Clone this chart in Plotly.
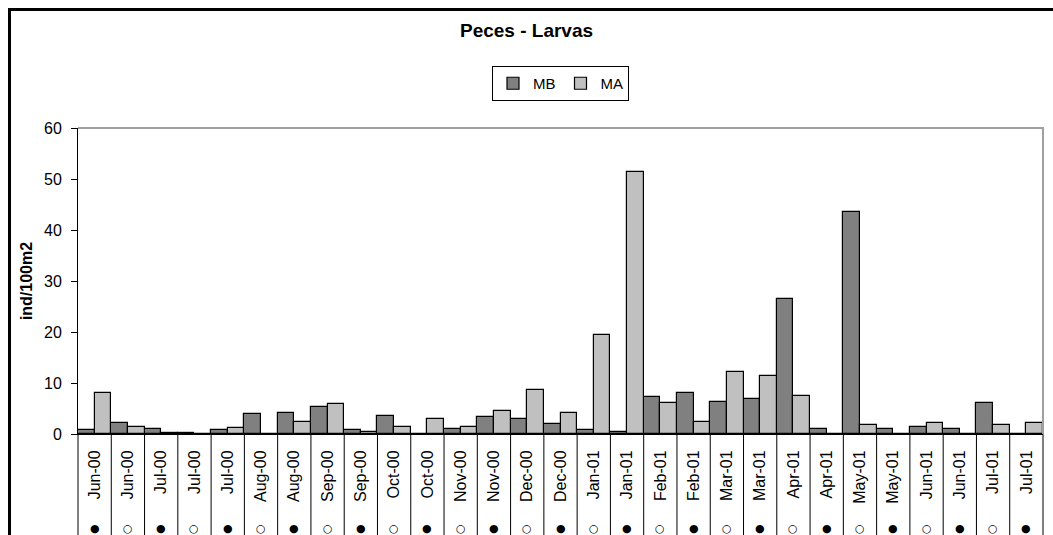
import plotly.graph_objects as go

# Sampling dates (two campaigns per month) and the marker row below them
dates = ["Jun-00", "Jun-00", "Jul-00", "Jul-00", "Jul-00", "Aug-00", "Aug-00",
         "Sep-00", "Sep-00", "Oct-00", "Oct-00", "Nov-00", "Nov-00", "Dec-00",
         "Dec-00", "Jan-01", "Jan-01", "Feb-01", "Feb-01", "Mar-01", "Mar-01",
         "Apr-01", "Apr-01", "May-01", "May-01", "Jun-01", "Jun-01", "Jul-01",
         "Jul-01"]
marks = ["●", "○", "●", "○", "●", "○", "●", "○", "●", "○", "●", "○", "●", "○",
         "●", "○", "●", "○", "●", "○", "●", "○", "●", "○", "●", "○", "●", "○",
         "●"]

# Fish larvae density (ind/100m2)
mb = [0.8, 2.1, 1.0, 0.2, 0.8, 4.0, 4.2, 5.3, 0.8, 3.5, 0.0, 1.0, 3.3, 2.9,
      1.9, 0.8, 0.3, 7.2, 8.0, 6.3, 6.9, 26.5, 1.0, 43.5, 1.0, 1.4, 1.0, 6.1,
      0.0]
ma = [8.0, 1.4, 0.2, 0.0, 1.1, 0.0, 2.4, 5.9, 0.3, 1.4, 2.9, 1.4, 4.5, 8.6,
      4.2, 19.4, 51.4, 6.1, 2.4, 12.2, 11.4, 7.5, 0.0, 1.8, 0.0, 2.1, 0.0, 1.8,
      2.1]

y_ticks = [0, 10, 20, 30, 40, 50, 60]

W, H = 1053, 535
ML, MR, MT, MB_ = 78, 10, 128, 101
PW, PH = W - ML - MR, H - MT - MB_
FONT = "Liberation Sans, Arial, sans-serif"


def px_x(x):
    return (x - ML) / PW


def px_y(y):
    return (MT + PH - y) / PH


n = len(dates)
xs = list(range(n))

fig = go.Figure()
fig.add_trace(go.Bar(x=xs, y=mb, name="MB", marker=dict(
    color="#808080", line=dict(color="#000000", width=1.2))))
fig.add_trace(go.Bar(x=xs, y=ma, name="MA", marker=dict(
    color="#C0C0C0", line=dict(color="#000000", width=1.2))))

shapes = []
# category separators running down through the label rows
for i in range(n + 1):
    shapes.append(dict(type="line", xref="paper", yref="paper",
                       x0=i / n, x1=i / n, y0=0, y1=-0.45,
                       line=dict(color="#000000", width=1)))
# plot-area border (top and right)
shapes.append(dict(type="path", xref="paper", yref="paper",
                   path="M 0 1 L 1 1 L 1 0",
                   line=dict(color="#A0A0A0", width=2)))
# outer chart frame
shapes.append(dict(type="rect", xref="paper", yref="paper",
                   x0=px_x(9.5), x1=px_x(W + 20), y0=px_y(9.5), y1=px_y(H + 30),
                   line=dict(color="#000000", width=3)))

annotations = []
for i, m in enumerate(marks):
    annotations.append(dict(x=i, y=px_y(528), xref="x", yref="paper",
                            text=m, showarrow=False,
                            font=dict(family="DejaVu Sans", size=11,
                                      color="#000000"),
                            xanchor="center", yanchor="middle"))

fig.update_layout(
    width=W, height=H,
    margin=dict(l=ML, r=MR, t=MT, b=MB_, pad=0),
    paper_bgcolor="#FFFFFF", plot_bgcolor="#FFFFFF",
    barmode="group", bargap=0, bargroupgap=0,
    title=dict(text="<b>Peces - Larvas</b>", x=0.5, xanchor="center",
               y=1 - 30 / H, yanchor="middle", yref="container",
               font=dict(family=FONT, size=19, color="#000000")),
    legend=dict(orientation="h", x=0.5, xanchor="center",
                y=px_y(66), yanchor="top",
                bordercolor="#000000", borderwidth=1, bgcolor="#FFFFFF",
                font=dict(family=FONT, size=15, color="#000000"),
                itemwidth=30, traceorder="normal"),
    xaxis=dict(range=[-0.5, n - 0.5], tickmode="array", tickvals=xs,
               ticktext=dates, tickangle=-90, ticks="",
               ticklabelstandoff=9,
               tickfont=dict(family=FONT, size=16, color="#000000"),
               showline=True, linecolor="#000000", linewidth=1,
               showgrid=False, zeroline=False, fixedrange=True),
    yaxis=dict(range=[0, 60], tickmode="array", tickvals=y_ticks,
               ticks="outside", ticklen=6, tickcolor="#000000",
               ticklabelstandoff=6,
               tickfont=dict(family=FONT, size=16, color="#000000"),
               showline=True, linecolor="#000000", linewidth=1,
               showgrid=False, zeroline=False,
               title=dict(text="<b>ind/100m2</b>", standoff=7,
                          font=dict(family=FONT, size=16, color="#000000"))),
    shapes=shapes,
    annotations=annotations,
)

fig.write_html("out.html")
